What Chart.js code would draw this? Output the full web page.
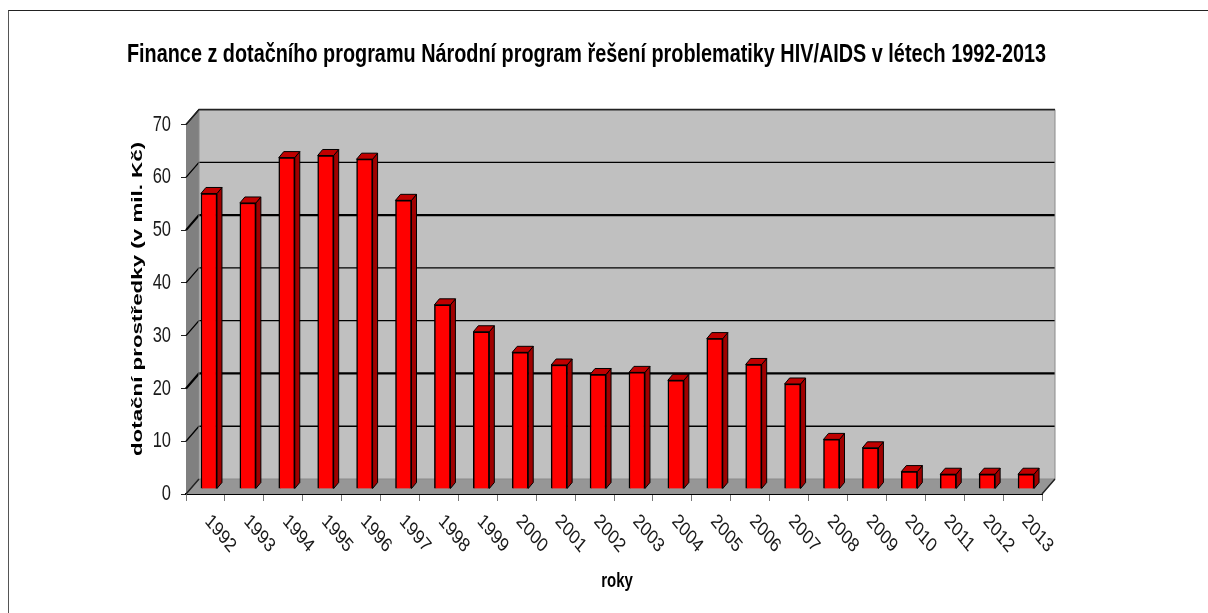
<!DOCTYPE html>
<html>
<head>
<meta charset="utf-8">
<script src="https://cdn.jsdelivr.net/npm/chart.js@4"></script>
<style>
    html, body { margin: 0; padding: 0; background: #fff; }
    #wrap { position: relative; width: 1208px; height: 613px; overflow: hidden; }
    #frame { position: absolute; left: 8px; top: 10px; width: 1300px; height: 700px; border: 1px solid #222; border-left-color: #555; }
    canvas { position: absolute; left: 0; top: 0; }
</style>
</head>
<body>
<div id="wrap">
    <div id="frame"></div>
    <canvas id="financeChart" width="1208" height="613"></canvas>
</div>
<script>
const years = ["1992", "1993", "1994", "1995", "1996", "1997", "1998", "1999", "2000", "2001", "2002",
    "2003", "2004", "2005", "2006", "2007", "2008", "2009", "2010", "2011", "2012", "2013"];
const funds = [56, 54.2, 62.8, 63.2, 62.5, 54.7, 34.9, 29.8, 25.9, 23.5, 21.7,
    22.1, 20.6, 28.5, 23.6, 19.9, 9.4, 7.8, 3.3, 2.8, 2.8, 2.8];
const yTicks = [0, 10, 20, 30, 40, 50, 60, 70];
const heavyGrid = [20, 50];
const yTitle = "dotační prostředky (v mil. Kč)";
const xTitle = "roky";

// depth of the fake 3D box and of the bars
const wallX = 13, wallY = 15;
const barShiftX = 3.5, barShiftY = -5;
const barDepthX = 5, barDepthY = 6;

const box3d = {
    id: "box3d",
    afterLayout(chart) {
        // title width is limited through fillText's maxWidth
        chart.titleBlock.left = 127;
        chart.titleBlock.right = 1046;
    },
    beforeDatasetsDraw(chart) {
        const { ctx, chartArea: a, scales: { y } } = chart;
        const poly = (pts, fill) => {
            ctx.beginPath();
            pts.forEach((p, i) => (i ? ctx.lineTo(p[0], p[1]) : ctx.moveTo(p[0], p[1])));
            ctx.closePath();
            ctx.fillStyle = fill;
            ctx.fill();
        };
        ctx.save();
        // back wall, left wall, floor
        poly([[a.left + wallX, a.top - wallY], [a.right + wallX, a.top - wallY],
            [a.right + wallX, a.bottom - wallY], [a.left + wallX, a.bottom - wallY]], "#c0c0c0");
        poly([[a.left, a.top], [a.left + wallX, a.top - wallY],
            [a.left + wallX, a.bottom - wallY], [a.left, a.bottom]], "#808080");
        poly([[a.left, a.bottom], [a.left + wallX, a.bottom - wallY],
            [a.right + wallX, a.bottom - wallY], [a.right, a.bottom]], "#969696");

        // grid lines run along the left wall and then across the back wall
        yTicks.forEach((v) => {
            if (v === 0) return;
            const py = y.getPixelForValue(v);
            ctx.beginPath();
            ctx.moveTo(a.left, py);
            ctx.lineTo(a.left + wallX, py - wallY);
            ctx.lineTo(a.right + wallX, py - wallY);
            ctx.strokeStyle = "#000";
            ctx.lineWidth = heavyGrid.includes(v) ? 2.2 : 1.3;
            ctx.stroke();
        });
        // outline of the back wall
        ctx.strokeStyle = "#8a8a8a";
        ctx.lineWidth = 1;
        ctx.beginPath();
        ctx.moveTo(a.left + wallX, a.top - wallY);
        ctx.lineTo(a.left + wallX, a.bottom - wallY);
        ctx.lineTo(a.right + wallX, a.bottom - wallY);
        ctx.lineTo(a.right + wallX, a.top - wallY);
        ctx.stroke();
        ctx.strokeStyle = "#222";
        ctx.lineWidth = 1.5;
        ctx.beginPath();
        ctx.moveTo(a.left, a.top);
        ctx.lineTo(a.left + wallX, a.top - wallY);
        ctx.lineTo(a.right + wallX, a.top - wallY);
        ctx.moveTo(a.left, a.bottom);
        ctx.lineTo(a.left + wallX, a.bottom - wallY);
        ctx.moveTo(a.right, a.bottom);
        ctx.lineTo(a.right + wallX, a.bottom - wallY);
        ctx.stroke();
        ctx.restore();
    },
    beforeDatasetDraw(chart, args) {
        const { ctx } = chart;
        ctx.save();
        ctx.translate(barShiftX, barShiftY);
        ctx.strokeStyle = "#000";
        ctx.lineWidth = 1;
        args.meta.data.forEach((bar) => {
            const l = bar.x - bar.width / 2, r = bar.x + bar.width / 2;
            // side
            ctx.beginPath();
            ctx.moveTo(r, bar.y);
            ctx.lineTo(r + barDepthX, bar.y - barDepthY);
            ctx.lineTo(r + barDepthX, bar.base - barDepthY);
            ctx.lineTo(r, bar.base);
            ctx.closePath();
            ctx.fillStyle = "#a00000";
            ctx.fill();
            ctx.stroke();
            // top
            ctx.beginPath();
            ctx.moveTo(l, bar.y);
            ctx.lineTo(l + barDepthX, bar.y - barDepthY);
            ctx.lineTo(r + barDepthX, bar.y - barDepthY);
            ctx.lineTo(r, bar.y);
            ctx.closePath();
            ctx.fillStyle = "#c00000";
            ctx.fill();
            ctx.stroke();
        });
    },
    afterDatasetDraw(chart) {
        chart.ctx.restore();
    },
    // axis texts, drawn here because they need the horizontal squeeze
    afterDraw(chart) {
        const { ctx, chartArea: a, scales: { x, y } } = chart;
        const put = (text, px, py, font, color, sx, angle, align) => {
            ctx.save();
            ctx.translate(px, py);
            ctx.scale(sx, 1);
            ctx.rotate(angle);
            ctx.font = font;
            ctx.fillStyle = color;
            ctx.textAlign = align;
            ctx.textBaseline = "middle";
            ctx.fillText(text, 0, 0);
            ctx.restore();
        };
        yTicks.forEach((v) => {
            put(String(v), 171, y.getPixelForValue(v), "22px 'Liberation Sans'", "#1a1a1a", 0.75, 0, "right");
        });
        years.forEach((year, i) => {
            put(year, x.getPixelForTick(i) + 2, 518, "20px 'Liberation Sans'", "#1a1a1a", 0.82, Math.PI / 4, "left");
        });
        put(xTitle, (a.left + a.right) / 2 + 3, 581, "bold 20px 'Liberation Sans'", "#000", 0.75, 0, "center");

        // the vertical title is stretched along its length instead
        ctx.save();
        ctx.translate(138, 299);
        ctx.rotate(-Math.PI / 2);
        ctx.scale(1.49, 1);
        ctx.font = "bold 15px 'Liberation Sans'";
        ctx.fillStyle = "#000";
        ctx.textAlign = "center";
        ctx.textBaseline = "middle";
        ctx.fillText(yTitle, 0, 0);
        ctx.restore();
    },
};

new Chart(document.getElementById("financeChart"), {
    type: "bar",
    data: {
        labels: years,
        datasets: [{
            data: funds,
            backgroundColor: "#ff0000",
            borderColor: "#000",
            borderWidth: 1.5,
            barThickness: 16,
        }],
    },
    plugins: [box3d],
    options: {
        responsive: false,
        animation: false,
        layout: { padding: { top: 0, right: 166, bottom: 0, left: 0 } },
        plugins: {
            legend: { display: false },
            tooltip: { enabled: false },
            title: {
                display: true,
                text: "Finance z dotačního programu Národní program řešení problematiky HIV/AIDS v létech 1992-2013",
                color: "#000",
                font: { family: "'Liberation Sans'", size: 25, weight: "bold" },
                padding: { top: 40, bottom: 54.6 },
            },
        },
        scales: {
            x: {
                grid: { display: true, drawOnChartArea: false, color: "#777", tickLength: 7 },
                border: { color: "#000", width: 2 },
                afterFit(scale) { scale.height = 119; },
                ticks: { display: false, autoSkip: false },
            },
            y: {
                min: 0,
                max: 70,
                afterFit(scale) { scale.width = 186; },
                grid: { display: true, drawOnChartArea: false, color: "#222", tickLength: 5 },
                border: { color: "#777", width: 1 },
                ticks: { display: false, stepSize: 10 },
            },
        },
    },
});
</script>
</body>
</html>
